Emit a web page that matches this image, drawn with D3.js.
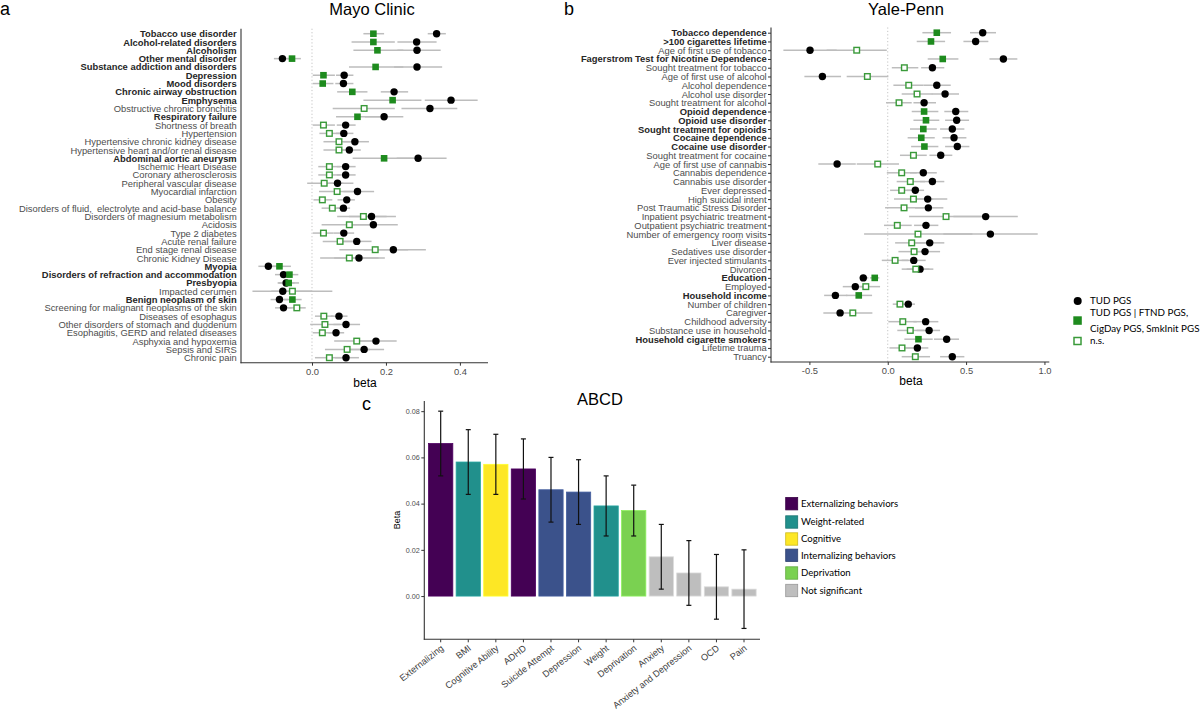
<!DOCTYPE html>
<html><head><meta charset="utf-8">
<script src="https://cdn.jsdelivr.net/npm/d3@7"></script>
<style>
body{margin:0;background:#fff}
svg{display:block;font-family:"Liberation Sans",Arial,sans-serif}
text{white-space:pre}
</style></head><body>
<svg id="chart" width="1200" height="717"></svg>
<script>
// ---------------- Panel a: Mayo Clinic ----------------
const mayoCats = ["Tobacco use disorder","Alcohol-related disorders","Alcoholism","Other mental disorder","Substance addiction and disorders","Depression","Mood disorders","Chronic airway obstruction","Emphysema","Obstructive chronic bronchitis","Respiratory failure","Shortness of breath","Hypertension","Hypertensive chronic kidney disease","Hypertensive heart and/or renal disease","Abdominal aortic aneurysm","Ischemic Heart Disease","Coronary atherosclerosis","Peripheral vascular disease","Myocardial infarction","Obesity","Disorders of fluid,  electrolyte and acid-base balance","Disorders of magnesium metabolism","Acidosis","Type 2 diabetes","Acute renal failure","End stage renal disease","Chronic Kidney Disease","Myopia","Disorders of refraction and accommodation","Presbyopia","Impacted cerumen","Benign neoplasm of skin","Screening for malignant neoplasms of the skin","Diseases of esophagus","Other disorders of stomach and duodenum","Esophagitis, GERD and related diseases","Asphyxia and hypoxemia","Sepsis and SIRS","Chronic pain"];
const mayoTud   = [0.337,0.283,0.284,-0.080,0.284,0.087,0.085,0.222,0.376,0.319,0.195,0.091,0.086,0.116,0.101,0.287,0.091,0.091,0.069,0.123,0.094,0.085,0.161,0.166,0.086,0.121,0.220,0.127,-0.118,-0.077,-0.070,-0.079,-0.088,-0.077,0.073,0.092,0.065,0.173,0.141,0.092];
const mayoTudLo = [0.313,0.231,0.231,-0.103,0.222,0.065,0.063,0.186,0.305,0.242,0.143,0.067,0.065,0.085,0.076,0.229,0.067,0.067,0.044,0.085,0.069,0.067,0.100,0.100,0.058,0.085,0.140,0.060,-0.145,-0.100,-0.093,-0.161,-0.112,-0.100,0.051,0.058,0.044,0.116,0.094,0.062];
const mayoTudHi = [0.362,0.337,0.348,-0.059,0.352,0.112,0.112,0.260,0.448,0.393,0.247,0.118,0.112,0.154,0.132,0.364,0.118,0.118,0.112,0.168,0.116,0.103,0.227,0.232,0.114,0.161,0.308,0.197,-0.091,-0.055,-0.047,0.000,-0.064,-0.055,0.096,0.130,0.087,0.229,0.195,0.127];
const mayoCond   = [0.166,0.166,0.177,-0.054,0.172,0.031,0.029,0.109,0.218,0.141,0.123,0.031,0.047,0.073,0.073,0.195,0.047,0.047,0.033,0.068,0.028,0.055,0.139,0.101,0.031,0.076,0.171,0.101,-0.088,-0.061,-0.063,-0.053,-0.053,-0.041,0.032,0.035,0.028,0.121,0.095,0.047];
const mayoCondLo = [0.139,0.107,0.112,-0.073,0.100,0.002,0.002,0.068,0.139,0.056,0.065,0.002,0.020,0.031,0.031,0.110,0.017,0.017,-0.013,0.019,0.004,0.026,0.068,0.026,0.002,0.029,0.074,0.022,-0.109,-0.084,-0.091,-0.110,-0.077,-0.064,0.008,-0.005,0.002,0.060,0.035,0.008];
const mayoCondHi = [0.195,0.224,0.247,-0.030,0.247,0.062,0.058,0.150,0.296,0.224,0.184,0.062,0.076,0.112,0.112,0.283,0.076,0.076,0.085,0.121,0.055,0.085,0.202,0.170,0.058,0.121,0.260,0.180,-0.057,-0.037,-0.035,0.055,-0.028,-0.017,0.058,0.076,0.055,0.179,0.157,0.082];
const mayoSig = [1,1,1,1,1,1,1,1,1,0,1,0,0,0,0,1,0,0,0,0,0,0,0,0,0,0,0,0,1,1,1,0,1,0,0,0,0,0,0,0];
const mayoTicks = [0.0, 0.2, 0.4];

// ---------------- Panel b: Yale-Penn ----------------
const yaleCats = ["Tobacco dependence",">100 cigarettes lifetime","Age of first use of tobacco","Fagerstrom Test for Nicotine Dependence","Sought treatment for tobacco","Age of first use of alcohol","Alcohol dependence","Alcohol use disorder","Sought treatment for alcohol","Opioid dependence","Opioid use disorder","Sought treatment for opioids","Cocaine dependence","Cocaine use disorder","Sought treatment for cocaine","Age of first use of cannabis","Cannabis dependence","Cannabis use disorder","Ever depressed","High suicidal intent","Post Traumatic Stress Disorder","Inpatient psychiatric treatment","Outpatient psychiatric treatment","Number of emergency room visits","Liver disease","Sedatives use disorder","Ever injected stimulants","Divorced","Education","Employed","Household income","Number of children","Caregiver","Childhood adversity","Substance use in household","Household cigarette smokers","Lifetime trauma","Truancy"];
const yaleTud   = [0.606,0.561,-0.496,0.738,0.285,-0.417,0.313,0.366,0.232,0.434,0.440,0.412,0.423,0.444,0.338,-0.323,0.227,0.285,0.176,0.255,0.259,0.625,0.244,0.655,0.268,0.238,0.166,0.206,-0.156,-0.207,-0.334,0.131,-0.304,0.242,0.264,0.376,0.189,0.412];
const yaleTudLo = [0.525,0.483,-0.666,0.649,0.213,-0.532,0.228,0.281,0.164,0.361,0.366,0.334,0.349,0.366,0.266,-0.443,0.142,0.206,0.121,0.170,0.174,0.419,0.168,0.355,0.174,0.153,0.089,0.121,-0.181,-0.287,-0.406,0.089,-0.411,0.164,0.185,0.295,0.117,0.334];
const yaleTudHi = [0.691,0.642,-0.326,0.827,0.361,-0.298,0.402,0.455,0.308,0.514,0.519,0.489,0.502,0.521,0.412,-0.204,0.313,0.361,0.232,0.380,0.355,0.830,0.323,0.957,0.361,0.334,0.242,0.291,-0.124,-0.134,-0.258,0.174,-0.200,0.323,0.334,0.455,0.259,0.489];
const yaleCond   = [0.313,0.276,-0.198,0.351,0.106,-0.130,0.134,0.187,0.072,0.232,0.244,0.227,0.214,0.234,0.164,-0.064,0.089,0.144,0.089,0.164,0.104,0.372,0.061,0.193,0.153,0.168,0.047,0.179,-0.083,-0.140,-0.185,0.078,-0.223,0.096,0.144,0.196,0.091,0.176];
const yaleCondLo = [0.221,0.185,-0.390,0.255,0.026,-0.262,0.036,0.089,-0.011,0.153,0.164,0.142,0.127,0.149,0.078,-0.198,-0.006,0.057,0.015,0.040,-0.017,0.136,-0.024,-0.151,0.047,0.068,-0.038,0.089,-0.113,-0.209,-0.266,0.032,-0.330,0.004,0.061,0.106,0.011,0.089];
const yaleCondHi = [0.404,0.366,-0.006,0.451,0.195,0.004,0.228,0.285,0.153,0.323,0.329,0.313,0.300,0.323,0.249,0.072,0.185,0.238,0.164,0.290,0.227,0.610,0.153,0.540,0.249,0.260,0.131,0.266,-0.054,-0.049,-0.100,0.121,-0.098,0.185,0.234,0.287,0.174,0.270];
const yaleSig = [1,1,0,1,0,0,0,0,0,1,1,1,1,1,0,0,0,0,0,0,0,0,0,0,0,0,0,0,1,0,1,0,0,0,0,1,0,0];
const yaleTicks = [-0.5, 0.0, 0.5, 1.0];

// ---------------- Panel c: ABCD ----------------
const abcdCats  = ["Externalizing","BMI","Cognitive Ability","ADHD","Suicide Attempt","Depression","Weight","Deprivation","Anxiety","Anxiety and Depression","OCD","Pain"];
const abcdBeta  = [0.066,0.058,0.057,0.055,0.046,0.045,0.039,0.037,0.017,0.010,0.004,0.003];
const abcdLo    = [0.052,0.044,0.044,0.042,0.032,0.031,0.026,0.026,0.003,-0.004,-0.010,-0.014];
const abcdHi    = [0.080,0.072,0.070,0.068,0.060,0.059,0.052,0.048,0.031,0.024,0.018,0.020];
const abcdGroup = ["Externalizing behaviors","Weight-related","Cognitive","Externalizing behaviors","Internalizing behaviors","Internalizing behaviors","Weight-related","Deprivation","Not significant","Not significant","Not significant","Not significant"];
const groupNames  = ["Externalizing behaviors","Weight-related","Cognitive","Internalizing behaviors","Deprivation","Not significant"];
const groupColors = ["#440154","#21908C","#FDE725","#3B528B","#7AD151","#BEBEBE"];
const abcdTicks = [0.00, 0.02, 0.04, 0.06, 0.08];

const legendLabels = ["TUD PGS", "TUD PGS | FTND PGS,\nCigDay PGS, SmkInit PGS", "n.s."];

// ---------------- drawing ----------------
const svg = d3.select("#chart");
const GREEN = "#1E8B1E", GREEN_OPEN = "#3A9A3A", CI = "#BDBDBD";

function forest(o) {
  const g = svg.append("g");
  const x = d3.scaleLinear().domain(o.xDomain).range(o.xRange);
  const y = d3.scalePoint().domain(o.cats).range(o.yRange);
  const step = y.step();
  const top = o.yRange[0] - 0.6 * step, bottom = o.yRange[1] + 0.6 * step;
  g.append("line").attr("x1", x(0)).attr("x2", x(0)).attr("y1", top).attr("y2", bottom)
    .attr("stroke", "#C4C4C4").attr("stroke-width", 1).attr("stroke-dasharray", "1.2,2.2");
  const idx = d3.range(o.cats.length);
  g.selectAll(".ci1").data(idx).join("line")
    .attr("x1", i => x(o.tudLo[i])).attr("x2", i => x(o.tudHi[i]))
    .attr("y1", i => y(o.cats[i])).attr("y2", i => y(o.cats[i]))
    .attr("stroke", CI).attr("stroke-width", 1.5);
  g.selectAll(".ci2").data(idx).join("line")
    .attr("x1", i => x(o.condLo[i])).attr("x2", i => x(o.condHi[i]))
    .attr("y1", i => y(o.cats[i])).attr("y2", i => y(o.cats[i]))
    .attr("stroke", CI).attr("stroke-width", 1.5);
  g.selectAll(".pt").data(idx).join("circle")
    .attr("cx", i => x(o.tud[i])).attr("cy", i => y(o.cats[i])).attr("r", 3.7).attr("fill", "#000");
  g.selectAll(".sq").data(idx).join("rect")
    .each(function(i){
      const s = o.sig[i] ? 6.6 : 5.6;
      d3.select(this).attr("x", x(o.cond[i]) - s/2).attr("y", y(o.cats[i]) - s/2)
        .attr("width", s).attr("height", s)
        .attr("fill", o.sig[i] ? GREEN : "#fff")
        .attr("stroke", o.sig[i] ? "none" : GREEN_OPEN)
        .attr("stroke-width", o.sig[i] ? 0 : 1.4);
    });
  const ya = g.append("g").attr("transform", `translate(${o.xRange[0]},0)`)
    .call(d3.axisLeft(y).tickSize(o.yTick).tickPadding(o.yPad));
  ya.select(".domain").remove();
  ya.selectAll(".tick line").attr("stroke", "#333").attr("stroke-width", 1);
  ya.selectAll(".tick text")
    .attr("font-family", "Liberation Sans, Arial, sans-serif")
    .attr("font-size", 9.4)
    .attr("font-weight", (d, i) => o.sig[i] ? "bold" : "normal")
    .attr("fill", (d, i) => o.sig[i] ? "#262626" : "#4D4D4D");
  g.append("line").attr("x1", o.xRange[0]).attr("x2", o.xRange[0]).attr("y1", top).attr("y2", bottom + 0.5)
    .attr("stroke", "#333").attr("stroke-width", 1.1);
  const xa = g.append("g").attr("transform", `translate(0,${bottom})`)
    .call(d3.axisBottom(x).tickValues(o.ticks).tickSize(3).tickPadding(2.5).tickFormat(d => d.toFixed(1)));
  xa.select(".domain").remove();
  xa.selectAll(".tick line").attr("stroke", "#333");
  xa.selectAll(".tick text").attr("font-family", "Liberation Sans, Arial, sans-serif")
    .attr("font-size", 9.4).attr("fill", "#4D4D4D");
  g.append("line").attr("x1", o.xRange[0] - 0.5).attr("x2", o.xRange[1]).attr("y1", bottom).attr("y2", bottom)
    .attr("stroke", "#333").attr("stroke-width", 1.1);
  g.append("text").attr("x", o.titleX).attr("y", 15).attr("text-anchor", "middle")
    .attr("font-size", 16.5).attr("fill", "#000").text(o.title);
  g.append("text").attr("x", o.betaX).attr("y", o.betaY).attr("text-anchor", "middle")
    .attr("font-size", 12).attr("fill", "#000").text("beta");
}

forest({cats: mayoCats, tud: mayoTud, tudLo: mayoTudLo, tudHi: mayoTudHi,
  cond: mayoCond, condLo: mayoCondLo, condHi: mayoCondHi, sig: mayoSig,
  xDomain: [-0.192, 0.476], xRange: [241, 488], yRange: [33.7, 357.7],
  ticks: mayoTicks, yTick: 0, yPad: 4.3, title: "Mayo Clinic", titleX: 372, betaX: 365, betaY: 386.5});

forest({cats: yaleCats, tud: yaleTud, tudLo: yaleTudLo, tudHi: yaleTudHi,
  cond: yaleCond, condLo: yaleCondLo, condHi: yaleCondHi, sig: yaleSig,
  xDomain: [-0.745, 1.031], xRange: [771, 1049.3], yRange: [32.7, 356.7],
  ticks: yaleTicks, yTick: 3, yPad: 1.3, title: "Yale-Penn", titleX: 906, betaX: 911, betaY: 385});

svg.append("text").attr("x", 0).attr("y", 15).attr("font-size", 18).text("a");
svg.append("text").attr("x", 564).attr("y", 15).attr("font-size", 18).text("b");
svg.append("text").attr("x", 362).attr("y", 410).attr("font-size", 18).text("c");

{
  const lg = svg.append("g").attr("font-family", "Lato, 'Open Sans', sans-serif").attr("font-size", 9.8).attr("fill", "#000");
  lg.append("circle").attr("cx", 1077.7).attr("cy", 301).attr("r", 4).attr("fill", "#000");
  lg.append("rect").attr("x", 1073.3).attr("y", 316.3).attr("width", 8.5).attr("height", 8.5).attr("fill", GREEN);
  lg.append("rect").attr("x", 1074).attr("y", 337.5).attr("width", 7).attr("height", 7).attr("fill", "#fff")
    .attr("stroke", GREEN_OPEN).attr("stroke-width", 1.5);
  const ys = [[301], [312.7, 328.3], [341]];
  legendLabels.forEach((lab, k) => {
    lab.split("\n").forEach((line, j) => {
      lg.append("text").attr("x", 1090).attr("y", ys[k][j]).attr("dy", "0.35em").text(line);
    });
  });
}

{
  const g = svg.append("g");
  const y = d3.scaleLinear().domain([-0.0187, 0.0844]).range([639.3, 401]);
  const x = d3.scaleBand().domain(abcdCats).range([426.9, 757.8]).paddingInner(0.12).paddingOuter(0.06);
  const col = d3.scaleOrdinal().domain(groupNames).range(groupColors);
  const idx = d3.range(abcdCats.length);
  g.selectAll(".bar").data(idx).join("rect")
    .attr("x", i => x(abcdCats[i])).attr("width", x.bandwidth())
    .attr("y", i => y(Math.max(0, abcdBeta[i]))).attr("height", i => Math.abs(y(abcdBeta[i]) - y(0)))
    .attr("fill", i => col(abcdGroup[i]))
    .attr("stroke", i => d3.color(col(abcdGroup[i])).brighter(0.4)).attr("stroke-width", 0.8);
  const cx = i => x(abcdCats[i]) + x.bandwidth() / 2;
  g.selectAll(".eb").data(idx).join("line")
    .attr("x1", cx).attr("x2", cx).attr("y1", i => y(abcdLo[i])).attr("y2", i => y(abcdHi[i]))
    .attr("stroke", "#111").attr("stroke-width", 1.2);
  [abcdLo, abcdHi].forEach((arr, k) => {
    g.selectAll(".cap" + k).data(idx).join("line")
      .attr("x1", i => cx(i) - 2.5).attr("x2", i => cx(i) + 2.5)
      .attr("y1", i => y(arr[i])).attr("y2", i => y(arr[i]))
      .attr("stroke", "#111").attr("stroke-width", 1.2);
  });
  const ya = g.append("g").attr("transform", "translate(424.3,0)")
    .call(d3.axisLeft(y).tickValues(abcdTicks).tickSize(3).tickPadding(1.5).tickFormat(d3.format(".2f")));
  ya.select(".domain").remove();
  ya.selectAll(".tick line").attr("stroke", "#333");
  ya.selectAll(".tick text").attr("font-size", 7.2).attr("fill", "#4D4D4D");
  g.append("line").attr("x1", 424.3).attr("x2", 424.3).attr("y1", 401).attr("y2", 639.8).attr("stroke", "#333").attr("stroke-width", 1.1);
  const xa = g.append("g").attr("transform", "translate(0,639.3)")
    .call(d3.axisBottom(x).tickSize(3).tickPadding(2));
  xa.select(".domain").remove();
  xa.selectAll(".tick line").attr("stroke", "#333");
  xa.selectAll(".tick text").attr("font-size", 9.2).attr("fill", "#3D3D3D")
    .attr("text-anchor", "end").attr("y", 0).attr("dy", 0)
    .attr("transform", "translate(3.5,10) rotate(-38)");
  g.append("line").attr("x1", 423.8).attr("x2", 760).attr("y1", 639.3).attr("y2", 639.3).attr("stroke", "#333").attr("stroke-width", 1.1);
  g.append("text").attr("transform", "translate(399.5,520) rotate(-90)").attr("text-anchor", "middle")
    .attr("font-size", 9).attr("fill", "#000").text("Beta");
  g.append("text").attr("x", 600).attr("y", 405).attr("text-anchor", "middle").attr("font-size", 16.5).attr("fill", "#000").text("ABCD");
  const lg = g.append("g").attr("font-family", "Lato, 'Open Sans', sans-serif").attr("font-size", 9.6).attr("fill", "#000");
  const ly = [503.7, 522, 539, 555.3, 573, 590.5];
  groupNames.forEach((nm, k) => {
    lg.append("rect").attr("x", 785.7).attr("y", ly[k] - 6.2).attr("width", 12).attr("height", 12.4)
      .attr("fill", groupColors[k]).attr("stroke", d3.color(groupColors[k]).darker(0.6)).attr("stroke-width", 0.8);
    lg.append("text").attr("x", 801).attr("y", ly[k]).attr("dy", "0.35em").text(nm);
  });
}
</script>
</body></html>
